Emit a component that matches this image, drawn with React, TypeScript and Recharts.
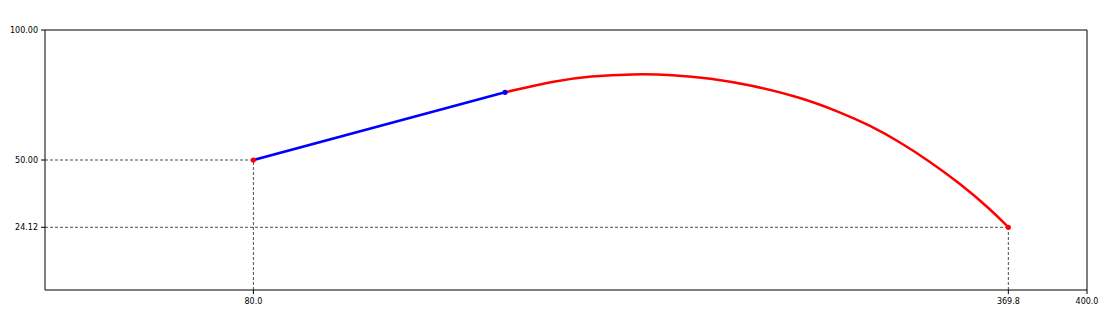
import React from 'react';
import { ComposedChart, Line, Scatter, XAxis, YAxis, ReferenceLine } from 'recharts';

// launch segment (straight, blue)
const launchX = [80, 176.6];
const launchY = [50, 76.03];

// flight segment (curved, red)
const flightX = [176.6, 196.4, 209.2, 225.7, 241.1, 255.3, 270.6, 289.8, 305.2, 316.7, 328.2, 339.7, 351.2, 362.8, 369.8];
const flightY = [76.03, 80.6, 82.3, 83.1, 82.8, 81.5, 78.9, 74.2, 68.4, 63.3, 56.9, 49.4, 41.0, 31.2, 24.12];

// marked points
const markX = [80, 176.6, 369.8];
const markY = [50, 76.03, 24.12];
const markColors = ['#ff0000', '#0000ff', '#ff0000'];

const xTicks = [80, 369.8, 400];
const yTicks = [24.12, 50, 100];

const launch = launchX.map((x, i) => ({ x, y: launchY[i] }));
const flight = flightX.map((x, i) => ({ x, y: flightY[i] }));
const marks = markX.map((x, i) => ({ x, y: markY[i], color: markColors[i] }));

const tickStyle = { fill: '#000', fontSize: 8, fontFamily: 'DejaVu Sans' };
const dashed = { stroke: '#000', strokeWidth: 0.7, strokeDasharray: '3 2' };

const Dot = (props: any) => <circle cx={props.cx} cy={props.cy} r={2.6} fill={props.payload.color} />;

const App: React.FC = () => {
  return (
    <div style={{ position: 'absolute', left: 0, top: 0, width: 1119, height: 325, background: '#fff' }}>
      <ComposedChart width={1119} height={325} margin={{ top: 30, right: 32, left: 0, bottom: 0 }}>
        <XAxis
          type="number"
          dataKey="x"
          domain={[0, 400]}
          ticks={xTicks}
          tickFormatter={(v: number) => v.toFixed(1)}
          height={35}
          stroke="#000"
          tickSize={4}
          tickMargin={4}
          tick={tickStyle}
          allowDataOverflow
        />
        <YAxis
          type="number"
          dataKey="y"
          domain={[0, 100]}
          ticks={yTicks}
          tickFormatter={(v: number) => v.toFixed(2)}
          width={45}
          stroke="#000"
          tickSize={4}
          tickMargin={3}
          tick={tickStyle}
          allowDataOverflow
        />

        {/* frame: top and right edges */}
        <ReferenceLine y={100} stroke="#000" strokeWidth={1} />
        <ReferenceLine x={400} stroke="#000" strokeWidth={1} />

        <ReferenceLine segment={[{ x: 0, y: 50 }, { x: 80, y: 50 }]} {...dashed} />
        <ReferenceLine segment={[{ x: 80, y: 0 }, { x: 80, y: 50 }]} {...dashed} />
        <ReferenceLine segment={[{ x: 0, y: 24.12 }, { x: 369.8, y: 24.12 }]} {...dashed} />
        <ReferenceLine segment={[{ x: 369.8, y: 0 }, { x: 369.8, y: 24.12 }]} {...dashed} />

        <Scatter data={marks} dataKey="y" isAnimationActive={false} shape={<Dot />} legendType="none" />
        <Line data={launch} dataKey="y" type="linear" stroke="#0000ff" strokeWidth={2.5} dot={false} isAnimationActive={false} />
        <Line data={flight} dataKey="y" type="basis" stroke="#ff0000" strokeWidth={2.5} dot={false} isAnimationActive={false} />
      </ComposedChart>
    </div>
  );
};

export default App;
